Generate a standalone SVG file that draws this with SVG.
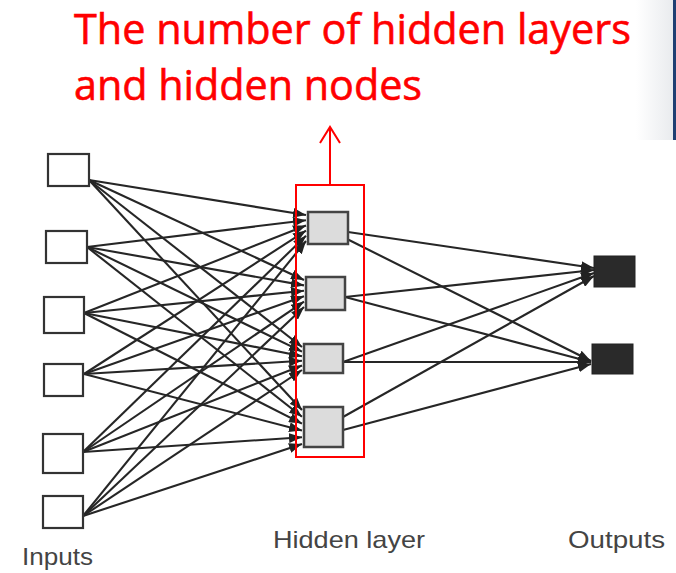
<svg xmlns="http://www.w3.org/2000/svg" width="676" height="573" viewBox="0 0 676 573">
<defs>
<linearGradient id="bg" x1="0" y1="0" x2="1" y2="0">
<stop offset="0" stop-color="#ffffff"/>
<stop offset="1" stop-color="#e9ebee"/>
</linearGradient>
<marker id="ah" markerUnits="userSpaceOnUse" markerWidth="13" markerHeight="10" refX="13" refY="5" orient="auto">
<path d="M0,0 L13,5 L0,10 z" fill="#222"/>
</marker>
<style>
.c{stroke:#262626;stroke-width:2.1;fill:none;marker-end:url(#ah)}
.in{fill:#ffffff;stroke:#333;stroke-width:2.2}
.hid{fill:#dcdcdc;stroke:#444;stroke-width:2.5}
.out{fill:#2a2a2a;stroke:#222;stroke-width:1}
.lbl{font-family:"Liberation Sans",Arial,sans-serif;font-size:24px;fill:#444}
.title{font-family:"Open Sans","Noto Sans",sans-serif;font-size:42px;fill:#ff0000;stroke:#ff0000;stroke-width:0.6}
</style>
</defs>
<rect width="676" height="573" fill="#ffffff"/>
<rect x="636" y="0" width="37" height="140" fill="url(#bg)"/>
<rect x="673" y="0" width="3" height="140" fill="#1f3f73"/>

<g id="title">
<text class="title" x="74" y="44" textLength="557" lengthAdjust="spacingAndGlyphs">The number of hidden layers</text>
<text class="title" x="74" y="100" textLength="348" lengthAdjust="spacingAndGlyphs">and hidden nodes</text>
</g>

<g id="connectors">
<line class="c" x1="89" y1="180" x2="306" y2="215"/>
<line class="c" x1="87" y1="247" x2="306" y2="220.2"/>
<line class="c" x1="84" y1="313" x2="306" y2="225.4"/>
<line class="c" x1="84" y1="374" x2="306" y2="230.6"/>
<line class="c" x1="83" y1="452" x2="306" y2="235.8"/>
<line class="c" x1="83" y1="516" x2="306" y2="241"/>
<line class="c" x1="89" y1="180" x2="304" y2="280"/>
<line class="c" x1="87" y1="247" x2="304" y2="285.4"/>
<line class="c" x1="84" y1="313" x2="304" y2="290.8"/>
<line class="c" x1="84" y1="374" x2="304" y2="296.2"/>
<line class="c" x1="83" y1="452" x2="304" y2="301.6"/>
<line class="c" x1="83" y1="516" x2="304" y2="307"/>
<line class="c" x1="89" y1="180" x2="302" y2="347"/>
<line class="c" x1="87" y1="247" x2="302" y2="351.6"/>
<line class="c" x1="84" y1="313" x2="302" y2="356.2"/>
<line class="c" x1="84" y1="374" x2="302" y2="360.8"/>
<line class="c" x1="83" y1="452" x2="302" y2="365.4"/>
<line class="c" x1="83" y1="516" x2="302" y2="370"/>
<line class="c" x1="89" y1="180" x2="302" y2="410"/>
<line class="c" x1="87" y1="247" x2="302" y2="416.8"/>
<line class="c" x1="84" y1="313" x2="302" y2="423.6"/>
<line class="c" x1="84" y1="374" x2="302" y2="430.4"/>
<line class="c" x1="83" y1="452" x2="302" y2="437.2"/>
<line class="c" x1="83" y1="516" x2="302" y2="444"/>
<line class="c" x1="348" y1="232" x2="594" y2="268"/>
<line class="c" x1="333" y1="232" x2="591" y2="361"/>
<line class="c" x1="345" y1="297" x2="594" y2="270"/>
<line class="c" x1="345" y1="297" x2="591" y2="362"/>
<line class="c" x1="343" y1="362" x2="594" y2="273"/>
<line class="c" x1="343" y1="362" x2="591" y2="362"/>
<line class="c" x1="343" y1="417" x2="594" y2="276"/>
<line class="c" x1="343" y1="430" x2="591" y2="364"/>
</g>

<g id="input1"><rect class="in" x="48" y="154" width="41" height="32"/></g>
<g id="input2"><rect class="in" x="46" y="231" width="41" height="32"/></g>
<g id="input3"><rect class="in" x="44" y="297" width="40" height="36"/></g>
<g id="input4"><rect class="in" x="44" y="364" width="39" height="32"/></g>
<g id="input5"><rect class="in" x="43" y="434" width="40" height="39"/></g>
<g id="input6"><rect class="in" x="43" y="496" width="40" height="32"/></g>

<g id="hidden1"><rect class="hid" x="308" y="212" width="40" height="32"/></g>
<g id="hidden2"><rect class="hid" x="306" y="277" width="39" height="33"/></g>
<g id="hidden3"><rect class="hid" x="304" y="344" width="39" height="29"/></g>
<g id="hidden4"><rect class="hid" x="304" y="407" width="39" height="40"/></g>

<g id="output1"><rect class="out" x="594" y="256" width="41" height="31"/></g>
<g id="output2"><rect class="out" x="592" y="344" width="41" height="30"/></g>

<g id="highlight">
<rect x="296" y="185" width="68" height="272" fill="none" stroke="#ff0000" stroke-width="2"/>
<line x1="330" y1="185" x2="330" y2="127" stroke="#ff0000" stroke-width="2"/>
<polyline points="320,143 330,127 340,143" fill="none" stroke="#ff0000" stroke-width="2"/>
</g>

<g id="labels">
<text class="lbl" x="22" y="565" textLength="71" lengthAdjust="spacingAndGlyphs">Inputs</text>
<text class="lbl" x="273" y="548" textLength="152" lengthAdjust="spacingAndGlyphs">Hidden layer</text>
<text class="lbl" x="568" y="548" textLength="97" lengthAdjust="spacingAndGlyphs">Outputs</text>
</g>
</svg>
